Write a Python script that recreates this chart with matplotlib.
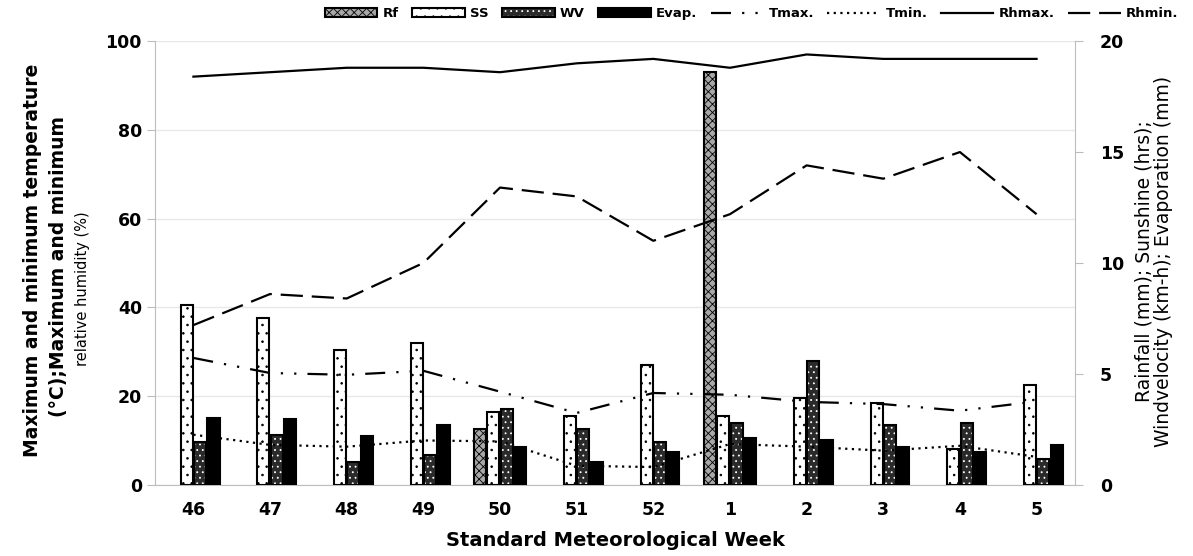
import numpy as np
import matplotlib
matplotlib.use('Agg')
import matplotlib.pyplot as plt

# standard meteorological weeks
weeks = ['46', '47', '48', '49', '50', '51', '52', '1', '2', '3', '4', '5']

# right axis (bars)
rf = [0, 0, 0, 0, 2.5, 0, 0, 18.6, 0, 0, 0, 0]
ss = [8.1, 7.5, 6.1, 6.4, 3.3, 3.1, 5.4, 3.1, 3.9, 3.7, 1.6, 4.5]
wv = [1.95, 2.25, 1.05, 1.35, 3.4, 2.5, 1.95, 2.8, 5.6, 2.7, 2.8, 1.15]
evap = [3.0, 2.95, 2.2, 2.7, 1.7, 1.05, 1.5, 2.1, 2.0, 1.7, 1.5, 1.8]

# left axis (lines)
tmax = [28.6, 25.2, 24.8, 25.7, 21.0, 16.2, 20.7, 20.3, 18.7, 18.2, 16.7, 18.8]
tmin = [11.3, 9.0, 8.6, 10.0, 9.8, 4.3, 4.0, 9.2, 8.6, 7.7, 8.8, 6.3]
rhmax = [92, 93, 94, 94, 93, 95, 96, 94, 97, 96, 96, 96]
rhmin = [36, 43, 42, 50, 67, 65, 55, 61, 72, 69, 75, 61]

plt.rcParams['font.family'] = 'DejaVu Sans'
plt.rcParams['hatch.linewidth'] = 0.6

fig = plt.figure(figsize=(11.93, 5.56), dpi=100)
ax = fig.add_axes([0.130, 0.128, 0.771, 0.798])
x = np.arange(len(weeks))

# left axis: grid + ticks
ax.set_ylim(0, 100)
ax.set_yticks([0, 20, 40, 60, 80, 100])
ax.set_xlim(-0.5, len(weeks) - 0.5)
ax.set_xticks(x)
ax.set_xticklabels(weeks)
ax.yaxis.grid(True, color='#e8e8e8', lw=1)
ax.set_axisbelow(True)
for s in ['top', 'right']:
    ax.spines[s].set_visible(False)
for s in ['left', 'bottom']:
    ax.spines[s].set_color('#bdbdbd')
ax.tick_params(axis='y', colors='#bdbdbd', length=6, labelcolor='black', labelsize=12.5)
ax.tick_params(axis='x', length=0, labelsize=12.5, pad=12)
for t in ax.get_xticklabels() + ax.get_yticklabels():
    t.set_fontweight('bold')

# bars on the right axis
ax2 = ax.twinx()
ax2.set_ylim(0, 20)
ax2.set_yticks([0, 5, 10, 15, 20])
for s in ['top', 'left', 'bottom']:
    ax2.spines[s].set_visible(False)
ax2.spines['right'].set_color('#bdbdbd')
ax2.tick_params(axis='y', colors='#bdbdbd', length=6, labelcolor='black', labelsize=12.5, pad=12)
for t in ax2.get_yticklabels():
    t.set_fontweight('bold')

w = 0.175
bw = w * 0.9
rf_a = np.array(rf)
keep = rf_a > 0
b_rf = ax2.bar(x[keep] - 1.5 * w, rf_a[keep], bw, facecolor='#a8a8a8', edgecolor='black', hatch='xxxx', lw=1.5)
b_ss = ax2.bar(x - 0.5 * w, ss, bw, facecolor='white', edgecolor='black', hatch='..', lw=1.5)
b_wv_f = ax2.bar(x + 0.5 * w, wv, bw, facecolor='#2a2a2a', edgecolor='white', hatch='...', lw=0)
b_wv = ax2.bar(x + 0.5 * w, wv, bw, fill=False, edgecolor='black', lw=1.5)
b_ev = ax2.bar(x + 1.5 * w, evap, bw, facecolor='black', edgecolor='black', lw=1.5)

# lines on top
ax3 = ax.twinx()
ax3.set_ylim(0, 100)
ax3.axis('off')
l1, = ax3.plot(x, tmax, color='black', lw=1.6, ls=(0, (9, 5, 1, 5, 1, 5)))
l2, = ax3.plot(x, tmin, color='black', lw=1.6, ls=(0, (1, 2)))
l3, = ax3.plot(x, rhmax, color='black', lw=1.6, ls='-')
l4, = ax3.plot(x, rhmin, color='black', lw=1.6, ls=(0, (10, 4)))

ax.set_xlabel('Standard Meteorological Week', fontsize=14, fontweight='bold', labelpad=8)

fig.text(0.027, 0.532, 'Maximum and minimum temperature', rotation=90, ha='center', va='center',
         fontsize=13.5, fontweight='bold')
fig.text(0.049, 0.52, '(°C);Maximum and minimum', rotation=90, ha='center', va='center',
         fontsize=13.5, fontweight='bold')
fig.text(0.069, 0.48, 'relative humidity (%)', rotation=90, ha='center', va='center',
         fontsize=10.5)
fig.text(0.967, 0.53, 'Rainfall (mm); Sunshine (hrs);\nWindvelocity (km-h); Evaporation (mm)',
         rotation=90, ha='center', va='center', fontsize=13.5, linespacing=1.05)

handles = [b_rf[0], b_ss[0], (b_wv_f[0], b_wv[0]), b_ev[0], l1, l2, l3, l4]
labels = ['Rf', 'SS', 'WV', 'Evap.', 'Tmax.', 'Tmin.', 'Rhmax.', 'Rhmin.']
leg = fig.legend(handles, labels, loc='center', bbox_to_anchor=(0.63, 0.975), ncol=8,
                 frameon=False, prop={'weight': 'bold', 'size': 9.5}, handlelength=4,
                 handleheight=0.7, columnspacing=1.0, handletextpad=0.4)

fig.savefig('out.png', dpi=100)
